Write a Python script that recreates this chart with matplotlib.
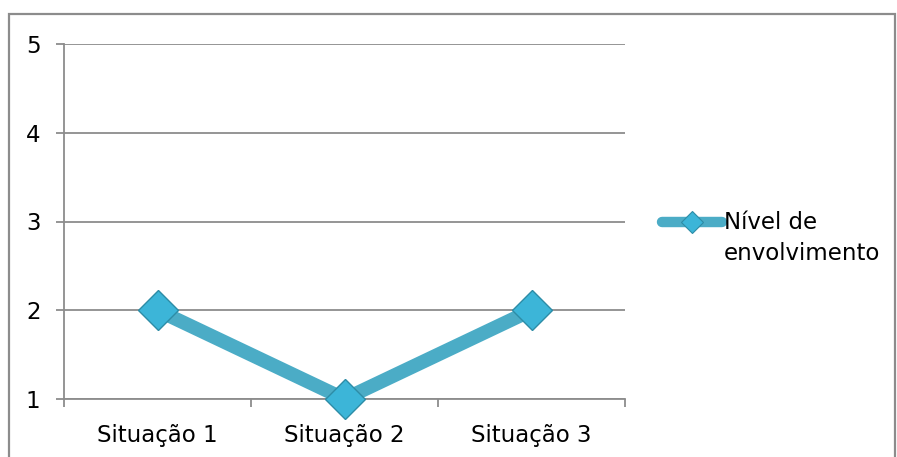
import matplotlib.pyplot as plt
from matplotlib.lines import Line2D
from matplotlib.patches import Rectangle

categories = ['Situação 1', 'Situação 2', 'Situação 3']
values = [2, 1, 2]
series_name = 'Nível de\nenvolvimento'

LINE_COLOR = '#4BACC6'
MARKER_FACE = '#3CB5D8'
MARKER_EDGE = '#2D8CA6'
GRID = '#8C8C8C'
FS = 16.5

plt.rcParams['font.family'] = ['DejaVu Sans']

fig = plt.figure(figsize=(8.97, 4.57), dpi=100)
ax = fig.add_axes([64 / 897, 58 / 457, 561 / 897, 355 / 457])

x = range(1, len(categories) + 1)
ax.plot(x, values, color=LINE_COLOR, linewidth=10, solid_capstyle='butt',
        marker='D', markersize=20, markerfacecolor=MARKER_FACE,
        markeredgecolor=MARKER_EDGE, markeredgewidth=1.0, zorder=3, clip_on=False)

ax.set_xlim(0.5, len(categories) + 0.5)
ax.set_ylim(1, 5)
ax.set_yticks([1, 2, 3, 4, 5])
ax.set_xticks(x)
ax.set_xticklabels(categories)
ax.set_xticks([0.5 + i for i in range(len(categories) + 1)], minor=True)
ax.tick_params(axis='x', which='major', length=0, pad=18, labelsize=FS)
ax.tick_params(axis='x', which='minor', length=6, width=1.3, color=GRID, direction='out')
ax.tick_params(axis='y', length=6, width=1.3, color=GRID, pad=11, labelsize=FS)

ax.grid(axis='y', color=GRID, linewidth=1.3)
for side in ['top', 'right']:
    ax.spines[side].set_visible(False)
for side in ['left', 'bottom']:
    ax.spines[side].set_color(GRID)
    ax.spines[side].set_linewidth(1.3)

# outer chart frame
fig.patches.append(Rectangle((9 / 897, -0.05), 886 / 897, 1.05 - 14 / 457,
                             transform=fig.transFigure, fill=False,
                             edgecolor='#8C8C8C', linewidth=1.6))

# legend
ly = 1 - 222 / 457
fig.add_artist(Line2D([662 / 897, 722 / 897], [ly, ly], transform=fig.transFigure,
                      color=LINE_COLOR, linewidth=7.5, solid_capstyle='round'))
fig.add_artist(Line2D([692 / 897], [ly], transform=fig.transFigure, marker='D',
                      markersize=11, markerfacecolor=MARKER_FACE,
                      markeredgecolor=MARKER_EDGE, markeredgewidth=0.8))
fig.text(724 / 897, 1 - 211 / 457, series_name, fontsize=FS, va='top', ha='left',
         linespacing=1.45)

fig.savefig('out.png', dpi=100)
